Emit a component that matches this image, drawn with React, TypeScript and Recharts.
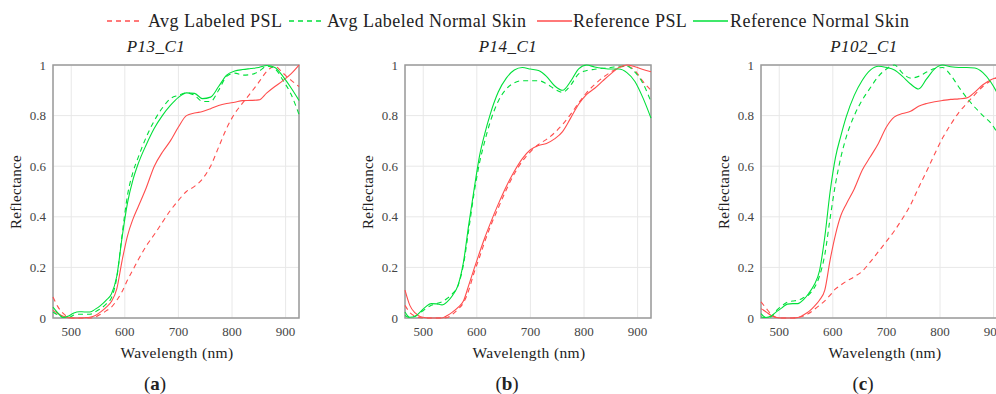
import { CartesianGrid, Line, LineChart, ReferenceArea, XAxis, YAxis } from 'recharts'

const wavelengths = [466, 475, 485, 495, 505, 515, 525, 535, 545, 555, 565, 575, 585, 595, 605, 615, 625, 640, 655, 670, 685, 700, 715, 730, 745, 760, 775, 790, 805, 820, 835, 850, 865, 880, 895, 910, 925]
const xTicks = [500, 600, 700, 800, 900]
const yTicks = [0, 0.2, 0.4, 0.6, 0.8, 1]

// P13_C1
const avgPslA = [0.083, 0.045, 0.018, 0.003, 0, 0, 0, 0, 0.004, 0.015, 0.028, 0.043, 0.07, 0.105, 0.15, 0.19, 0.23, 0.285, 0.33, 0.378, 0.425, 0.465, 0.5, 0.52, 0.55, 0.6, 0.675, 0.75, 0.808, 0.85, 0.89, 0.932, 0.975, 0.995, 0.968, 0.94, 0.915]
const avgSkinA = [0.024, 0.012, 0.003, 0.002, 0.012, 0.015, 0.015, 0.015, 0.025, 0.037, 0.055, 0.08, 0.16, 0.33, 0.485, 0.575, 0.635, 0.715, 0.78, 0.83, 0.867, 0.88, 0.89, 0.88, 0.856, 0.856, 0.9, 0.955, 0.968, 0.96, 0.962, 0.975, 0.995, 0.985, 0.94, 0.885, 0.805]
const refPslA = [0.03, 0.018, 0.007, 0.001, 0, 0, 0.001, 0.003, 0.01, 0.024, 0.042, 0.065, 0.115, 0.228, 0.325, 0.39, 0.44, 0.515, 0.6, 0.655, 0.7, 0.755, 0.8, 0.81, 0.816, 0.827, 0.84, 0.848, 0.853, 0.859, 0.86, 0.862, 0.89, 0.915, 0.938, 0.965, 1.0]
const refSkinA = [0.043, 0.02, 0.002, 0.008, 0.02, 0.025, 0.024, 0.024, 0.035, 0.05, 0.07, 0.095, 0.165, 0.32, 0.455, 0.545, 0.61, 0.685, 0.75, 0.8, 0.84, 0.872, 0.89, 0.888, 0.867, 0.873, 0.915, 0.96, 0.976, 0.982, 0.986, 0.99, 0.998, 0.99, 0.955, 0.91, 0.86]

// P14_C1
const avgPslB = [0.05, 0.022, 0.007, 0.001, 0, 0, 0, 0, 0.002, 0.015, 0.035, 0.06, 0.11, 0.18, 0.24, 0.303, 0.36, 0.435, 0.507, 0.57, 0.62, 0.657, 0.686, 0.706, 0.732, 0.765, 0.805, 0.85, 0.891, 0.923, 0.95, 0.972, 0.99, 0.996, 0.978, 0.935, 0.9]
const avgSkinB = [0.01, 0.002, 0.008, 0.022, 0.037, 0.05, 0.057, 0.064, 0.078, 0.097, 0.128, 0.21, 0.35, 0.495, 0.613, 0.7, 0.775, 0.857, 0.905, 0.93, 0.938, 0.938, 0.938, 0.926, 0.905, 0.892, 0.92, 0.965, 0.978, 0.983, 0.987, 0.99, 0.995, 0.995, 0.972, 0.927, 0.855]
const refPslB = [0.11, 0.05, 0.02, 0.005, 0.001, 0, 0, 0, 0.01, 0.024, 0.042, 0.067, 0.13, 0.195, 0.258, 0.318, 0.373, 0.45, 0.52, 0.58, 0.63, 0.665, 0.682, 0.69, 0.708, 0.737, 0.79, 0.845, 0.884, 0.908, 0.937, 0.965, 0.99, 1.0, 0.993, 0.982, 0.973]
const refSkinB = [0.024, 0.003, 0.006, 0.025, 0.045, 0.057, 0.056, 0.052, 0.065, 0.09, 0.13, 0.22, 0.37, 0.51, 0.64, 0.73, 0.805, 0.893, 0.948, 0.98, 0.99, 0.984, 0.978, 0.955, 0.918, 0.9, 0.935, 0.985, 1.0, 0.992, 0.987, 0.984, 0.984, 0.97, 0.935, 0.87, 0.79]

// P102_C1
const avgPslC = [0.064, 0.04, 0.015, 0.002, 0, 0, 0, 0.002, 0.008, 0.018, 0.033, 0.05, 0.068, 0.09, 0.115, 0.13, 0.145, 0.163, 0.185, 0.222, 0.262, 0.303, 0.345, 0.393, 0.447, 0.515, 0.58, 0.648, 0.712, 0.765, 0.812, 0.848, 0.883, 0.915, 0.938, 0.952, 0.962]
const avgSkinC = [0.004, 0.002, 0.005, 0.03, 0.048, 0.062, 0.067, 0.07, 0.08, 0.092, 0.118, 0.165, 0.25, 0.395, 0.53, 0.635, 0.715, 0.8, 0.862, 0.91, 0.955, 0.984, 1.0, 0.968, 0.948, 0.955, 0.972, 0.986, 0.99, 0.96, 0.913, 0.87, 0.833, 0.8, 0.77, 0.725, 0.7]
const refPslC = [0.037, 0.025, 0.01, 0.002, 0, 0, 0, 0.002, 0.012, 0.025, 0.045, 0.07, 0.11, 0.23, 0.33, 0.405, 0.45, 0.51, 0.585, 0.637, 0.69, 0.755, 0.795, 0.808, 0.817, 0.837, 0.848, 0.855, 0.86, 0.864, 0.866, 0.87, 0.893, 0.922, 0.942, 0.952, 0.957]
const refSkinC = [0.017, 0.002, 0.008, 0.025, 0.04, 0.055, 0.057, 0.057, 0.072, 0.097, 0.13, 0.185, 0.32, 0.5, 0.635, 0.72, 0.795, 0.88, 0.94, 0.98, 0.995, 0.99, 0.98, 0.955, 0.925, 0.905, 0.945, 0.985, 1.0, 0.993, 0.99, 0.99, 0.988, 0.97, 0.932, 0.875, 0.8]

const RED = '#ff4d4d'
const GREEN = '#00e03a'
const FONT = 'Liberation Serif'

const legendItems = [
  { label: 'Avg Labeled PSL', color: RED, dashed: true, lineX: 107, textX: 148 },
  { label: 'Avg Labeled Normal Skin', color: GREEN, dashed: true, lineX: 289, textX: 327 },
  { label: 'Reference PSL', color: RED, dashed: false, lineX: 537, textX: 573 },
  { label: 'Reference Normal Skin', color: GREEN, dashed: false, lineX: 693, textX: 730 },
]

const panels = [
  { title: 'P13_C1', tag: 'a', left: 53, series: [avgPslA, avgSkinA, refPslA, refSkinA] },
  { title: 'P14_C1', tag: 'b', left: 405, series: [avgPslB, avgSkinB, refPslB, refSkinB] },
  { title: 'P102_C1', tag: 'c', left: 761, series: [avgPslC, avgSkinC, refPslC, refSkinC] },
]

const PLOT_W = 246
const Y_W = 40

function Panel({ left, series }: { left: number; series: number[][] }) {
  const rows = wavelengths.map((wl, i) => ({
    wl,
    avgPsl: series[0][i],
    avgSkin: series[1][i],
    refPsl: series[2][i],
    refSkin: series[3][i],
  }))
  const tick = { fontSize: 13, fill: '#444', fontFamily: FONT }
  return (
    <div style={{ position: 'absolute', left: left - 60, top: 0 }}>
      <LineChart width={60 + PLOT_W + 10} height={394} data={rows} margin={{ top: 65, right: 10, bottom: 46, left: 60 - Y_W }} style={{ fontFamily: FONT }}>
        <CartesianGrid stroke="#e8e8e8" strokeWidth={1} />
        <XAxis dataKey="wl" type="number" domain={[466, 925]} ticks={xTicks} height={30} axisLine={false} tickLine={false} tickSize={0} tickMargin={9} tick={tick} />
        <YAxis type="number" domain={[0, 1]} ticks={yTicks} width={Y_W} axisLine={false} tickLine={false} tickSize={0} tickMargin={7} tick={tick} tickFormatter={(v: number) => (v === 0 || v === 1 ? String(v) : v.toFixed(1))} />
        <ReferenceArea x1={466} x2={925} y1={0} y2={1} fill="none" fillOpacity={0} stroke="#9a9a9a" strokeWidth={1.5} ifOverflow="visible" />
        <Line dataKey="avgPsl" type="monotone" stroke={RED} strokeWidth={1.1} strokeDasharray="5 4" dot={false} isAnimationActive={false} />
        <Line dataKey="avgSkin" type="monotone" stroke={GREEN} strokeWidth={1.1} strokeDasharray="5 4" dot={false} isAnimationActive={false} />
        <Line dataKey="refPsl" type="monotone" stroke={RED} strokeWidth={1.1} dot={false} isAnimationActive={false} />
        <Line dataKey="refSkin" type="monotone" stroke={GREEN} strokeWidth={1.1} dot={false} isAnimationActive={false} />
      </LineChart>
    </div>
  )
}

export default function App() {
  return (
    <div style={{ position: 'absolute', left: 0, top: 0, width: 996, height: 394, overflow: 'hidden', background: '#fff', fontFamily: FONT, color: '#222' }}>
      {legendItems.map((it) => (
        <div key={it.label}>
          <svg style={{ position: 'absolute', left: it.lineX, top: 16 }} width={36} height={10}>
            <line x1={0} y1={5} x2={35} y2={5} stroke={it.color} strokeWidth={1.5} strokeDasharray={it.dashed ? '5 4' : undefined} />
          </svg>
          <div style={{ position: 'absolute', left: it.textX, top: 9, fontSize: 18, letterSpacing: 0.45, lineHeight: '24px', whiteSpace: 'nowrap' }}>{it.label}</div>
        </div>
      ))}
      {panels.map((p) => (
        <div key={p.tag}>
          <Panel left={p.left} series={p.series} />
          <div style={{ position: 'absolute', left: p.left + 103 - 60, width: 120, top: 36, textAlign: 'center', fontStyle: 'italic', fontSize: 17, letterSpacing: 0.5, lineHeight: '22px' }}>{p.title}</div>
          <div style={{ position: 'absolute', left: p.left - 37 - 60, top: 183, width: 120, textAlign: 'center', fontSize: 15, letterSpacing: 0.3, lineHeight: '18px', transform: 'rotate(-90deg)' }}>Reflectance</div>
          <div style={{ position: 'absolute', left: p.left + 124 - 80, top: 343, width: 160, textAlign: 'center', fontSize: 15.5, letterSpacing: 0.35, lineHeight: '20px' }}>Wavelength (nm)</div>
          <div style={{ position: 'absolute', left: p.left + 102 - 30, top: 372, width: 60, textAlign: 'center', fontSize: 19, lineHeight: '24px' }}>
            (<b>{p.tag}</b>)
          </div>
        </div>
      ))}
    </div>
  )
}
